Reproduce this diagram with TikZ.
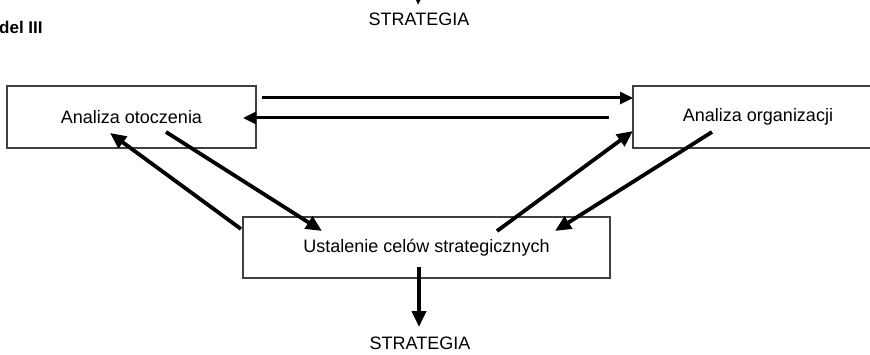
\documentclass[tikz,border=0pt]{standalone}
\usepackage{fontspec}
\setmainfont{Liberation Sans}
\usepackage{tikz}
\usetikzlibrary{
	arrows.meta
}

\begin{document}
\begin{tikzpicture}[
		x=1pt, y=1pt,
		blok/.style={draw=black!75, line width=1.1pt, minimum height=62pt, inner sep=0pt,
			font=\fontsize{18}{21}\selectfont},
		napis/.style={inner sep=0pt, font=\fontsize{18}{21}\selectfont},
		strzalka/.style={line width=3.8pt, -{Triangle[length=16pt,width=14pt]}},
		poziom/.style={line width=3pt, -{Triangle[length=13pt,width=12pt]}}
	]
		\useasboundingbox (0,0) rectangle (870,354);
		\clip (0,0) rectangle (870,354);

		\coordinate (gora) at (419,372);

		\draw
			node[napis,anchor=west,font=\fontsize{17}{19}\selectfont\bfseries] (tytul) at (-1,326.5) {del III}
			node[napis]                    (stratGora) at (419,335)     {STRATEGIA}
			node[blok,minimum width=249pt] (oto)       at (131.5,237)   {Analiza otoczenia}
			node[blok,minimum width=250pt] (org)       at (758,237)     {Analiza organizacji}
			node[blok,minimum width=367pt,minimum height=61pt] (cel) at (426.5,106.5) {Ustalenie celów strategicznych}
			node[napis]                    (stratDol)  at (420,10.5)    {STRATEGIA}

			(gora) edge[strzalka] ([xshift=-1pt,yshift=14pt]stratGora.center)

			([xshift=130.5pt,yshift=19pt]oto.center) edge[poziom] ([xshift=-125pt,yshift=19pt]org.center)
			([xshift=-149pt,yshift=-1pt]org.center)  edge[poziom] ([xshift=111.5pt,yshift=-1pt]oto.center)

			([xshift=34.5pt,yshift=-15pt]oto.center)    edge[strzalka] ([xshift=-104.5pt,yshift=16.5pt]cel.center)
			([xshift=-185.5pt,yshift=18.5pt]cel.center) edge[strzalka] ([xshift=-21.5pt,yshift=-16pt]oto.center)
			([xshift=70.5pt,yshift=16.5pt]cel.center)   edge[strzalka] ([xshift=-125pt,yshift=-14pt]org.center)
			([xshift=-46pt,yshift=-15pt]org.center)     edge[strzalka] ([xshift=128.5pt,yshift=16.5pt]cel.center)

			([xshift=-7.5pt,yshift=-19.5pt]cel.center)  edge[strzalka] ([xshift=-1pt,yshift=16.5pt]stratDol.center)
		;
	\end{tikzpicture}
\end{document}
